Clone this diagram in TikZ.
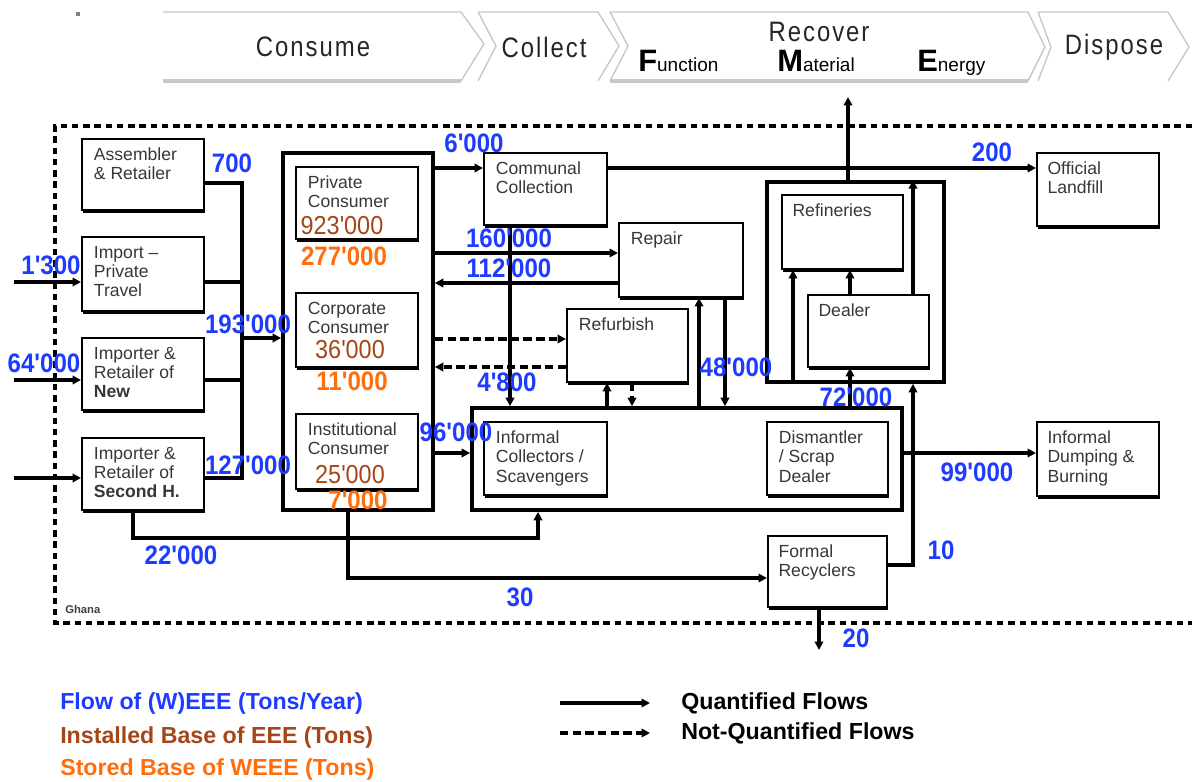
\documentclass[tikz,border=0pt]{standalone}
\usepackage{fontspec}
\setmainfont{Liberation Sans}
\newfontfamily\headfont[FakeStretch=0.85,LetterSpace=7]{Liberation Sans}
\newfontfamily\numfont[FakeStretch=0.9]{Liberation Sans}
\usetikzlibrary{arrows.meta,shadows}
\definecolor{flowblue}{RGB}{30,60,255}
\definecolor{basebrown}{RGB}{165,70,25}
\definecolor{storeorange}{RGB}{255,110,10}
\definecolor{boxtext}{RGB}{55,55,55}
\definecolor{stagegray}{RGB}{200,200,200}
\newcommand\initword[2]{{\fontsize{22}{22}\selectfont\bfseries #1}{\fontsize{13.5}{14}\selectfont #2}}
\begin{document}
\begin{tikzpicture}[x=0.025cm,y=-0.025cm,>={Triangle[length=6pt,width=6pt]},
  flow/.style={line width=2.2pt},
  nqflow/.style={line width=2.2pt,dash pattern=on 6pt off 3pt},
  unit/.style={draw,line width=1.4pt,fill=white,inner sep=0pt,
    drop shadow={shadow xshift=0.4pt,shadow yshift=-1.8pt,fill=black,opacity=1}},
  group/.style={draw,line width=2.6pt,inner sep=0pt},
  utext/.style={anchor=north west,inner sep=0pt,align=left,text=boxtext,
    font=\fontsize{12.5}{13.6}\selectfont},
  qty/.style={inner sep=0pt,text=flowblue,font=\numfont\bfseries\fontsize{19}{19}\selectfont},
  stock/.style={inner sep=0pt,text=basebrown,font=\numfont\fontsize{18.5}{19}\selectfont},
  store/.style={inner sep=0pt,text=storeorange,font=\numfont\bfseries\fontsize{19}{19}\selectfont},
  stage/.style={draw=stagegray,line width=1pt},
  stagebase/.style={draw=stagegray,line width=3pt},
  stagetext/.style={inner sep=0pt,text=black!85,font=\headfont\fontsize{20}{20}\selectfont},
  legend/.style={anchor=west,inner sep=0pt,font=\bfseries\fontsize{16.5}{17}\selectfont}]
\useasboundingbox (0,0) rectangle (1192,782);
\fill[gray] (76,12) rectangle (80,16);

% life cycle stages
\draw[stage] (163,12) -- (461,12) -- (484,44) -- (461,81);
\draw[stagebase] (163,81) -- (461,81);
\draw[stage] (478,12) -- (496,46) -- (478,81);
\draw[stage] (478,12) -- (598,12) -- (619,46) -- (598,81);
\draw[stage] (610,12) -- (628,46) -- (610,81);
\draw[stage] (610,12) -- (1028,12) -- (1045,47) -- (1028,81);
\draw[stagebase] (610,81) -- (1028,81);
\draw[stage] (1038,12) -- (1051,47) -- (1038,81);
\draw[stage] (1038,12) -- (1168,12) -- (1189,47) -- (1168,81);
\node[stagetext] (consume) at (313,47) {Consume};
\node[stagetext] (collect) at (544,47) {Collect};
\node[stagetext] (recover) at (819,32) {Recover};
\node[stagetext] (dispose) at (1114,47) {Dispose};
\node[anchor=base west,inner sep=0pt] (function) at (638,72) {\initword{F}{unction}};
\node[anchor=base west,inner sep=0pt] (material) at (777,72) {\initword{M}{aterial}};
\node[anchor=base west,inner sep=0pt] (energy) at (917,72) {\initword{E}{nergy}};

% system boundary
\draw[line width=2.6pt,dash pattern=on 4.5pt off 3.5pt] (1192,126) -- (55,126) -- (55,623) -- (1192,623);
\node[anchor=west,inner sep=0pt,text=black!75,font=\bfseries\fontsize{8}{8}\selectfont] (ghana) at (65,609) {Ghana};

% groups
\node[group,minimum width=3.75cm,minimum height=8.925cm] (cons) at (358,331.5) {};
\node[group,minimum width=10.75cm,minimum height=2.55cm] (infbig) at (687,459) {};
\node[group,minimum width=4.425cm,minimum height=5cm] (recbig) at (855.5,282) {};

% units
\node[unit,minimum width=3.05cm,minimum height=1.775cm] (asm) at (143,174.5) {};
\node[unit,minimum width=3.05cm,minimum height=1.85cm] (imp) at (143,274) {};
\node[unit,minimum width=3.05cm,minimum height=1.8cm] (new) at (143,374) {};
\node[unit,minimum width=3.05cm,minimum height=1.8cm] (sec) at (143,474) {};
\node[unit,minimum width=3.05cm,minimum height=1.8cm] (priv) at (357,203) {};
\node[unit,minimum width=3.05cm,minimum height=1.85cm] (corp) at (357,330) {};
\node[unit,minimum width=3.05cm,minimum height=1.875cm] (inst) at (357,451.5) {};
\node[unit,minimum width=3.075cm,minimum height=1.8cm] (comm) at (545.5,189) {};
\node[unit,minimum width=3.1cm,minimum height=1.85cm] (rep) at (681,260) {};
\node[unit,minimum width=3.025cm,minimum height=1.825cm] (ref) at (627.5,345.5) {};
\node[unit,minimum width=3.075cm,minimum height=1.825cm] (infcol) at (545.5,458.5) {};
\node[unit,minimum width=3.025cm,minimum height=1.825cm] (dism) at (827.5,458.5) {};
\node[unit,minimum width=3.025cm,minimum height=1.85cm] (refin) at (842.5,232) {};
\node[unit,minimum width=3.025cm,minimum height=1.8cm] (deal) at (868.5,331) {};
\node[unit,minimum width=3.05cm,minimum height=1.825cm] (land) at (1098,189.5) {};
\node[unit,minimum width=3.05cm,minimum height=1.85cm] (dump) at (1098,459) {};
\node[unit,minimum width=2.975cm,minimum height=1.775cm] (frec) at (827.5,571.5) {};

\node[utext] (asm-t) at ([xshift=9pt,yshift=-7pt]asm.north west) {Assembler\\\& Retailer};
\node[utext] (imp-t) at ([xshift=9pt,yshift=-7pt]imp.north west) {Import --\\Private\\Travel};
\node[utext] (new-t) at ([xshift=9pt,yshift=-7pt]new.north west) {Importer \&\\Retailer of\\\textbf{New}};
\node[utext] (sec-t) at ([xshift=9pt,yshift=-7pt]sec.north west) {Importer \&\\Retailer of\\\textbf{Second H.}};
\node[utext] (priv-t) at ([xshift=9pt,yshift=-7pt]priv.north west) {Private\\Consumer};
\node[utext] (corp-t) at ([xshift=9pt,yshift=-7pt]corp.north west) {Corporate\\Consumer};
\node[utext] (inst-t) at ([xshift=9pt,yshift=-7pt]inst.north west) {Institutional\\Consumer};
\node[utext] (comm-t) at ([xshift=9pt,yshift=-7pt]comm.north west) {Communal\\Collection};
\node[utext] (rep-t) at ([xshift=9pt,yshift=-7pt]rep.north west) {Repair};
\node[utext] (ref-t) at ([xshift=9pt,yshift=-7pt]ref.north west) {Refurbish};
\node[utext] (infcol-t) at ([xshift=9pt,yshift=-7pt]infcol.north west) {Informal\\Collectors /\\Scavengers};
\node[utext] (dism-t) at ([xshift=9pt,yshift=-7pt]dism.north west) {Dismantler\\/ Scrap\\Dealer};
\node[utext] (refin-t) at ([xshift=8pt,yshift=-7pt]refin.north west) {Refineries};
\node[utext] (deal-t) at ([xshift=8pt,yshift=-7pt]deal.north west) {Dealer};
\node[utext] (land-t) at ([xshift=8pt,yshift=-7pt]land.north west) {Official\\Landfill};
\node[utext] (dump-t) at ([xshift=8pt,yshift=-7pt]dump.north west) {Informal\\Dumping \&\\Burning};
\node[utext] (frec-t) at ([xshift=8pt,yshift=-7pt]frec.north west) {Formal\\Recyclers};

% supply
\coordinate (bus-top) at (242,183);
\coordinate (bus-mid) at (242,338);
\coordinate (bus-bot) at (242,478);
\coordinate (in-imp) at (14,282);
\coordinate (in-new) at (14,380);
\coordinate (in-sec) at (14,478);
\draw[flow] (asm.east |- bus-top) -- (bus-top) -- (bus-bot) -- (sec.east |- bus-bot);
\draw[flow] (imp.east |- in-imp) -- (bus-top |- in-imp);
\draw[flow] (new.east |- in-new) -- (bus-top |- in-new);
\draw[flow,->] (bus-mid) -- (cons.west |- bus-mid);
\draw[flow,->] (in-imp) -- (imp.west |- in-imp);
\draw[flow,->] (in-new) -- (new.west |- in-new);
\draw[flow,->] (in-sec) -- (sec.west |- in-sec);

% use and collection
\draw[flow,->] (cons.east |- 0,168) -- (comm.west |- 0,168);
\draw[flow,->] (comm.east |- 0,168) -- (land.west |- 0,168);
\draw[flow,->] (cons.east |- 0,253) -- (rep.west |- 0,253);
\draw[flow,->] (rep.west |- 0,283) -- (cons.east |- 0,283);
\draw[nqflow,->] (cons.east |- 0,339) -- (ref.west |- 0,339);
\draw[nqflow,->] (ref.west |- 0,367) -- (cons.east |- 0,367);
\draw[flow,->] (cons.east |- 0,453) -- (infbig.west |- 0,453);
\draw[flow,->] (510,0 |- comm.south) -- (510,0 |- infbig.north);
\draw[flow,->] (607,0 |- infbig.north) -- (607,0 |- ref.south);
\draw[nqflow,->] (632,0 |- ref.south) -- (632,0 |- infbig.north);
\draw[flow,->] (699,0 |- infbig.north) -- (699,0 |- rep.south);
\draw[flow,->] (725,0 |- rep.south) -- (725,0 |- infbig.north);

% recovery and disposal
\coordinate (out-rec) at (848,97);
\coordinate (out-frec) at (819,650);
\coordinate (k22) at (538,538);
\draw[flow,->] (850,0 |- infbig.north) -- (850,0 |- deal.south);
\draw[flow,->] (793,0 |- recbig.south) -- (793,0 |- refin.south);
\draw[flow,->] (850,0 |- deal.north) -- (850,0 |- refin.south);
\draw[flow,->] (913,0 |- deal.north) -- (913,0 |- recbig.north);
\draw[flow,->] (out-rec |- recbig.north) -- (out-rec);
\draw[flow,->] (infbig.east |- 0,453) -- (dump.west |- 0,453);
\draw[flow,->] (frec.east |- 0,565) -| (913,0 |- recbig.south);
\draw[flow,->] (348,0 |- cons.south) |- (frec.west |- 0,578);
\draw[flow,->] (133,0 |- sec.south) |- (k22) -- (k22 |- infbig.south);
\draw[flow,->] (out-frec |- frec.south) -- (out-frec);

% stocks
\node[stock] (s-priv) at (342,226) {923'000};
\node[stock] (s-corp) at (350,350) {36'000};
\node[stock] (s-inst) at (350,475) {25'000};
\node[store] (w-priv) at (344,256) {277'000};
\node[store] (w-corp) at (352,381) {11'000};
\node[store] (w-inst) at (358,500) {7'000};

% flow values
\node[qty] (q-700) at (232,163) {700};
\node[qty] (q-1300) at (51,265) {1'300};
\node[qty] (q-64k) at (44,363) {64'000};
\node[qty] (q-193k) at (248,324) {193'000};
\node[qty] (q-127k) at (248,465) {127'000};
\node[qty] (q-6k) at (474,143) {6'000};
\node[qty] (q-200) at (992,152) {200};
\node[qty] (q-160k) at (509,238) {160'000};
\node[qty] (q-112k) at (509,268) {112'000};
\node[qty] (q-4800) at (507,382) {4'800};
\node[qty] (q-96k) at (456,432) {96'000};
\node[qty] (q-48k) at (736,367) {48'000};
\node[qty] (q-72k) at (856,397) {72'000};
\node[qty] (q-99k) at (977,472) {99'000};
\node[qty] (q-10) at (941,550) {10};
\node[qty] (q-20) at (856,638) {20};
\node[qty] (q-22k) at (181,555) {22'000};
\node[qty] (q-30) at (520,597) {30};

% legend
\node[legend,text=flowblue] (lg-flow) at (60,703) {Flow of (W)EEE (Tons/Year)};
\node[legend,text=basebrown] (lg-inst) at (60,737) {Installed Base of EEE (Tons)};
\node[legend,text=storeorange] (lg-stor) at (60,769) {Stored Base of WEEE (Tons)};
\coordinate (lq-a) at (560,703);
\coordinate (lq-b) at (650,703);
\coordinate (ln-a) at (560,733);
\coordinate (ln-b) at (650,733);
\draw[flow,->] (lq-a) -- (lq-b);
\draw[nqflow,->] (ln-a) -- (ln-b);
\node[legend] (lg-q) at (681,703) {Quantified Flows};
\node[legend] (lg-n) at (681,733) {Not-Quantified Flows};
\end{tikzpicture}
\end{document}
